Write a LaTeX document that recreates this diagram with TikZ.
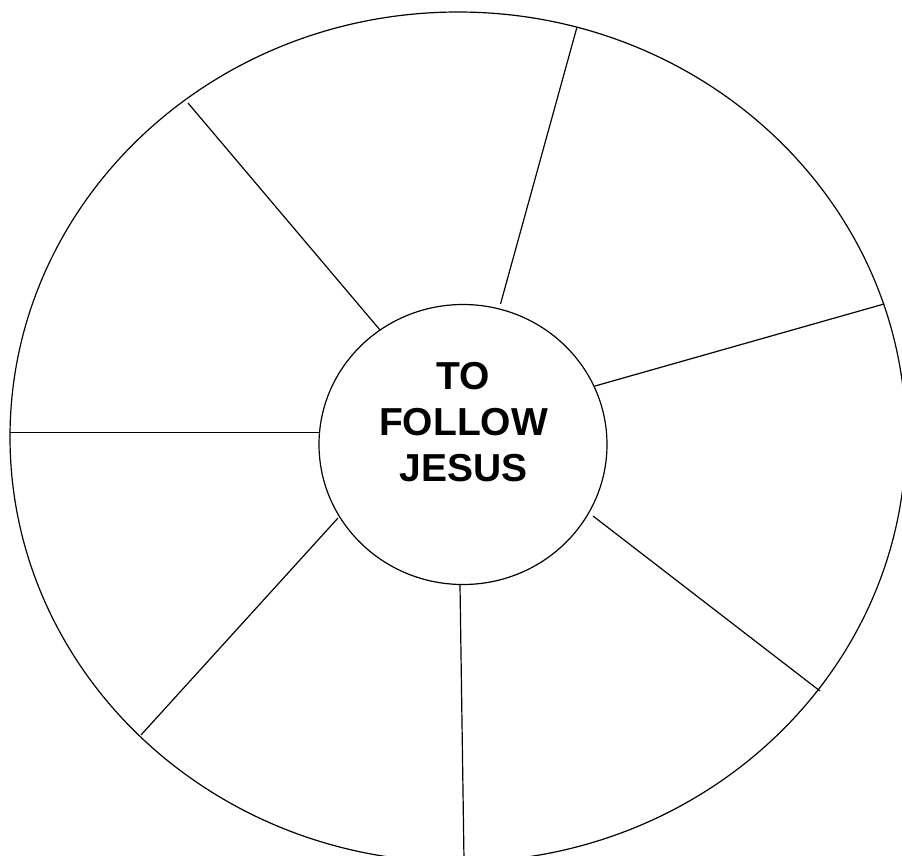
\documentclass[tikz,border=0pt]{standalone}
\usepackage{fontspec}
\setmainfont{Liberation Sans}
\usetikzlibrary{shapes.geometric}
\begin{document}
\begin{tikzpicture}[x=1pt,y=-1pt,
  ln/.style={line width=1.2pt,black},
  hubstyle/.style={draw,ellipse,line width=1.2pt,minimum width=288pt,minimum height=280pt,inner sep=0pt},
  title/.style={font=\fontsize{39}{46}\selectfont\bfseries,align=center,inner sep=0pt,anchor=north}]
\useasboundingbox (0,0) rectangle (902,855);
\begin{scope}
\clip (0,0) rectangle (902,855);
\draw[ln] (458,437) ellipse [x radius=448, y radius=425];
\node[hubstyle] (hub) at (463,444.5) {};
\node[title] (txt) at (463.5,362) {TO\\FOLLOW\\JESUS};
\coordinate (i1) at (380,330); \coordinate (o1) at (188,103);
\coordinate (i2) at (500.5,304); \coordinate (o2) at (577,27);
\coordinate (i3) at (595,386); \coordinate (o3) at (884,304);
\coordinate (i4) at (593,516); \coordinate (o4) at (820,691);
\coordinate (i5) at (460,585); \coordinate (o5) at (464,860);
\coordinate (i6) at (338,518); \coordinate (o6) at (141,735);
\coordinate (i7) at (319,432.5); \coordinate (o7) at (10,432.5);
\foreach \k in {1,...,7} {\draw[ln] (i\k) -- (o\k);}
\end{scope}
\end{tikzpicture}
\end{document}
